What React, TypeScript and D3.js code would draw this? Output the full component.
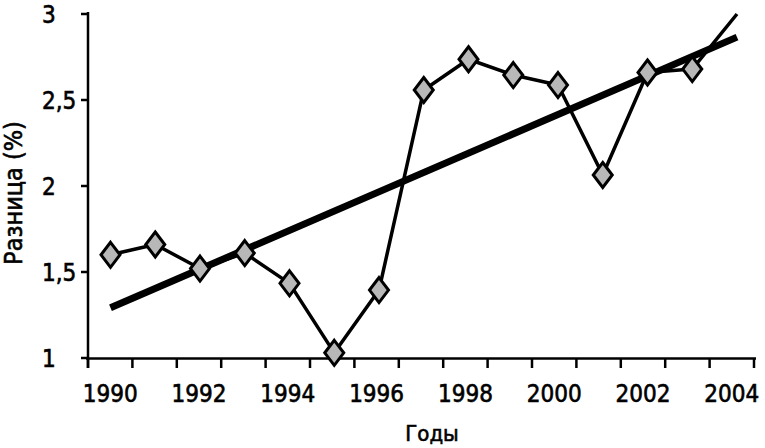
import React from "react";
import * as d3 from "d3";

const years = [1990, 1991, 1992, 1993, 1994, 1995, 1996, 1997, 1998, 1999, 2000, 2001, 2002, 2003, 2004];
const diffValues = [1.6, 1.66, 1.52, 1.61, 1.434, 1.03, 1.395, 2.558, 2.737, 2.645, 2.587, 2.064, 2.66, 2.68, 3.0];
const markedYears = [1990, 1991, 1992, 1993, 1994, 1995, 1996, 1997, 1998, 1999, 2000, 2001, 2002, 2003];
const xTickLabels = [1990, 1992, 1994, 1996, 1998, 2000, 2002, 2004];
const yTicks = [1, 1.5, 2, 2.5, 3];
const yTitle = "Разница (%)";
const xTitle = "Годы";

const W = 765;
const H = 448;
const FONT = "'DejaVu Sans Condensed', 'DejaVu Sans', sans-serif";

export default function App() {
  // axis categories
  const x = d3.scaleBand<number>().domain(years).range([88, 754]).padding(0);
  const bw = x.bandwidth();
  const cx = (yr: number) => (x(yr) as number) + bw / 2;
  // plotted points
  const xp = d3
    .scaleLinear()
    .domain([years[0], years[years.length - 1]])
    .range([110.5, 737]);
  const y = d3.scaleLinear().domain([1, 3]).range([358, 14]);

  const pts = years.map((yr, i) => ({ yr, v: diffValues[i] }));
  const line = d3
    .line<{ yr: number; v: number }>()
    .x((d) => xp(d.yr))
    .y((d) => y(d.v));

  // linear regression trend
  const mx = d3.mean(years) as number;
  const my = d3.mean(diffValues) as number;
  const slope =
    d3.sum(years.map((yr, i) => (yr - mx) * (diffValues[i] - my))) /
    d3.sum(years.map((yr) => (yr - mx) * (yr - mx)));
  const trend = (yr: number) => my + slope * (yr - mx);
  const t0 = years[0];
  const t1 = years[years.length - 1];

  const boundaries = d3.range(years.length + 1).map((k) => 88 + k * bw);

  const diamond = (px: number, py: number) =>
    `M${px},${py - 12.5} L${px + 9.5},${py} L${px},${py + 12.5} L${px - 9.5},${py} Z`;

  const textProps = {
    fontFamily: FONT,
    fill: "#000",
    stroke: "#000",
    strokeWidth: 0.6,
  };

  return (
    <svg
      width={W}
      height={H}
      style={{ position: "absolute", left: 0, top: 0, background: "#fff" }}
    >
      <rect x={0} y={0} width={W} height={H} fill="#fff" />
      {/* axes */}
      <line x1={88} y1={12} x2={88} y2={368} stroke="#000" strokeWidth={2.5} />
      <line x1={86} y1={358.5} x2={756} y2={358.5} stroke="#000" strokeWidth={2.5} />
      {boundaries.map((bx, k) => (
        <line key={"xt" + k} x1={bx} y1={358} x2={bx} y2={368} stroke="#000" strokeWidth={2.5} />
      ))}
      {yTicks.map((t) => (
        <line key={"yt" + t} x1={81} y1={y(t)} x2={88} y2={y(t)} stroke="#000" strokeWidth={2.5} />
      ))}
      {yTicks.map((t) => (
        <text key={"yl" + t} x={42} y={y(t)} dy="0.36em" fontSize={24} {...textProps}>
          {String(t).replace(".", ",")}
        </text>
      ))}
      {xTickLabels.map((t) => (
        <text key={"xl" + t} x={cx(t)} y={402} textAnchor="middle" fontSize={24} {...textProps}>
          {t}
        </text>
      ))}
      <text x={432} y={441} textAnchor="middle" fontSize={22} {...textProps}>
        {xTitle}
      </text>
      <text
        transform={`translate(22,193) rotate(-90)`}
        textAnchor="middle"
        fontSize={25}
        {...textProps}
      >
        {yTitle}
      </text>

      {/* trend */}
      <line
        x1={xp(t0)}
        y1={y(trend(t0))}
        x2={xp(t1)}
        y2={y(trend(t1))}
        stroke="#000"
        strokeWidth={7}
      />
      {/* data line */}
      <path d={line(pts) as string} fill="none" stroke="#000" strokeWidth={3.5} strokeLinejoin="round" />
      {pts
        .filter((p) => markedYears.includes(p.yr))
        .map((p) => (
          <path
            key={"m" + p.yr}
            d={diamond(xp(p.yr), y(p.v))}
            fill="#b8b8b8"
            stroke="#000"
            strokeWidth={3}
            strokeLinejoin="miter"
          />
        ))}
    </svg>
  );
}
